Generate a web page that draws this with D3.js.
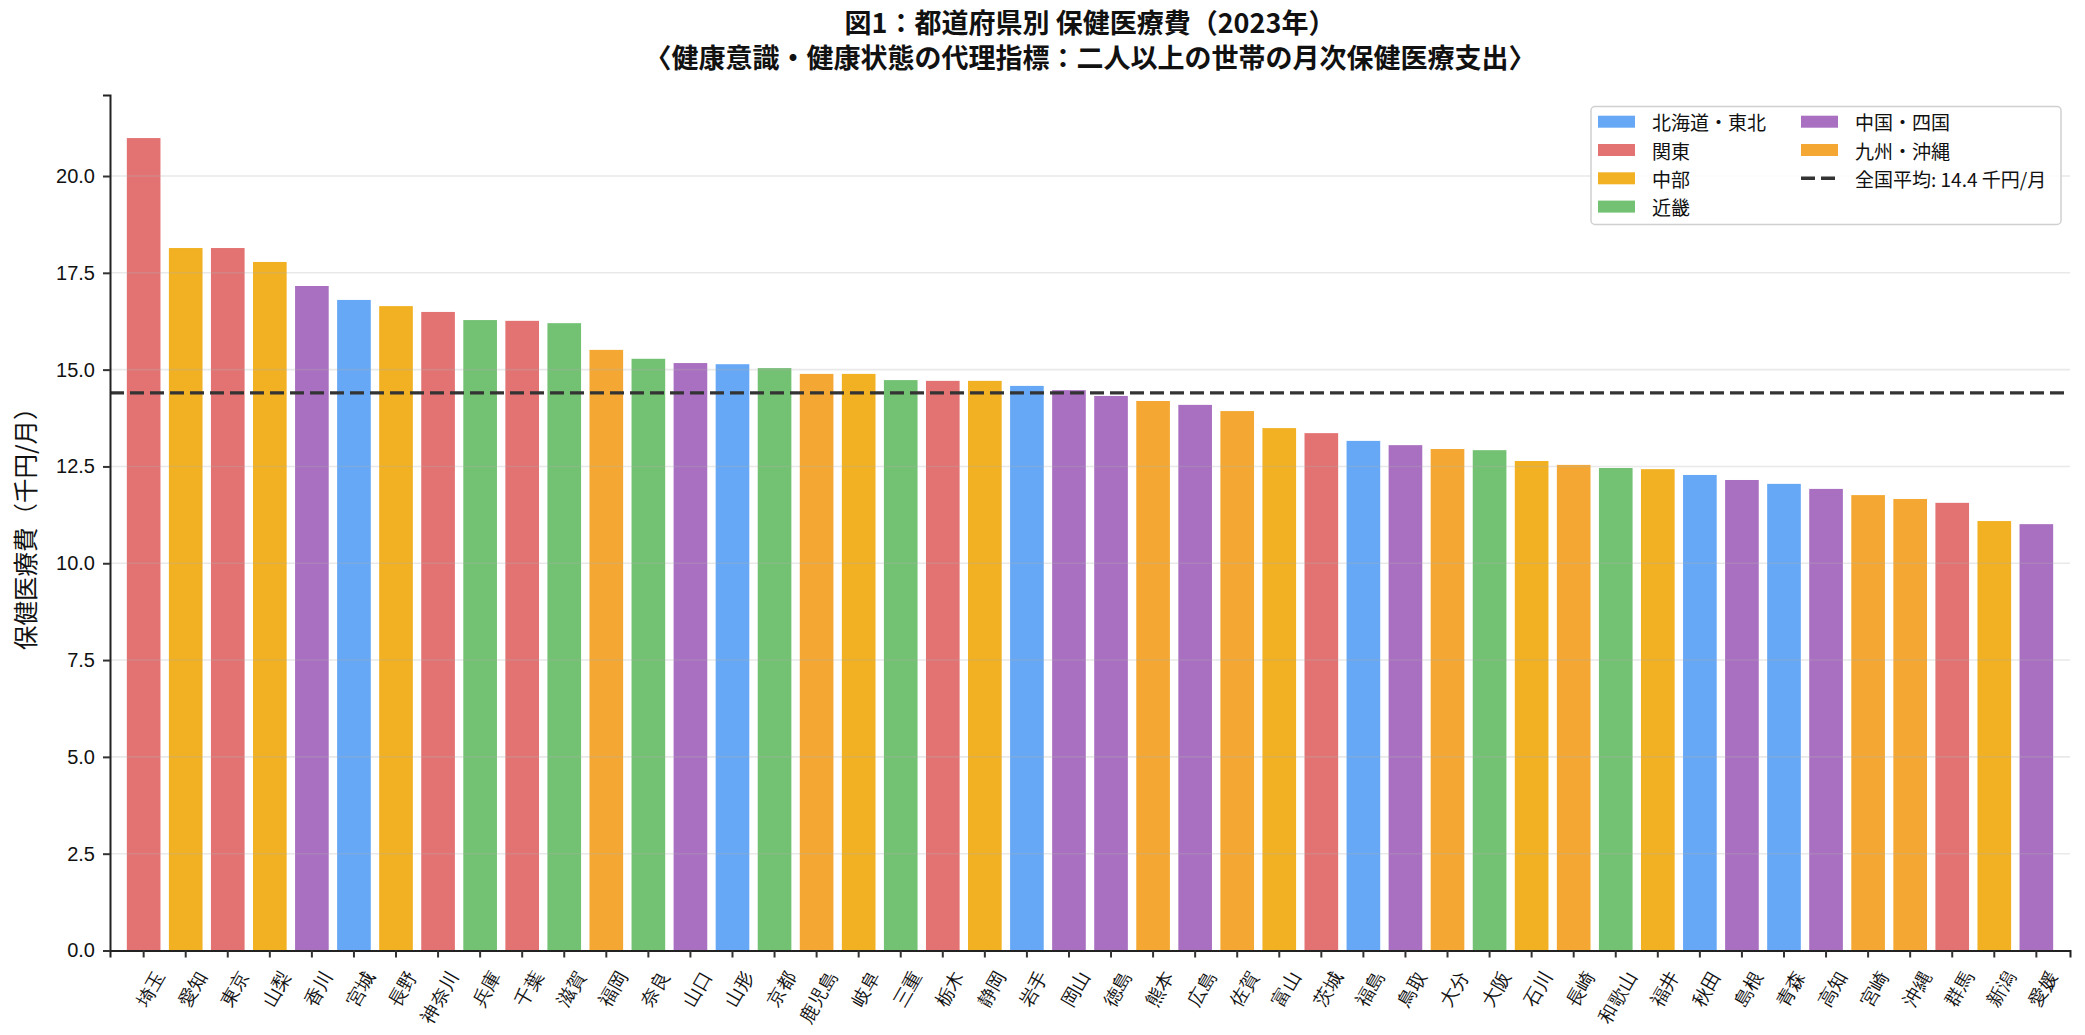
<!DOCTYPE html>
<html>
<head>
<meta charset="utf-8">
<script src="https://cdn.jsdelivr.net/npm/d3@7"></script>
<style>
  html, body { margin: 0; padding: 0; background: #fff; }
  svg { display: block; font-family: "Noto Sans CJK JP", "Noto Sans", sans-serif; }
</style>
</head>
<body>
<div id="chart"></div>
<script>
// 都道府県（支出の多い順）
const prefectures = [
  "埼玉", "愛知", "東京", "山梨", "香川", "宮城", "長野", "神奈川", "兵庫", "千葉",
  "滋賀", "福岡", "奈良", "山口", "山形", "京都", "鹿児島", "岐阜", "三重", "栃木",
  "静岡", "岩手", "岡山", "徳島", "熊本", "広島", "佐賀", "富山", "茨城", "福島",
  "鳥取", "大分", "大阪", "石川", "長崎", "和歌山", "福井", "秋田", "島根", "青森",
  "高知", "宮崎", "沖縄", "群馬", "新潟", "愛媛"
];

// 月次保健医療費（千円/月）
const values = [
  20.98, 18.14, 18.14, 17.78, 17.16, 16.80, 16.64, 16.49, 16.28, 16.26,
  16.20, 15.51, 15.28, 15.17, 15.14, 15.04, 14.89, 14.89, 14.73, 14.71,
  14.71, 14.58, 14.47, 14.32, 14.19, 14.09, 13.93, 13.49, 13.36, 13.16,
  13.05, 12.95, 12.92, 12.64, 12.54, 12.46, 12.43, 12.28, 12.15, 12.05,
  11.92, 11.76, 11.66, 11.56, 11.09, 11.01
];

const regions = [
  "関東", "中部", "関東", "中部", "中国・四国", "北海道・東北", "中部", "関東", "近畿", "関東",
  "近畿", "九州・沖縄", "近畿", "中国・四国", "北海道・東北", "近畿", "九州・沖縄", "中部", "近畿", "関東",
  "中部", "北海道・東北", "中国・四国", "中国・四国", "九州・沖縄", "中国・四国", "九州・沖縄", "中部", "関東", "北海道・東北",
  "中国・四国", "九州・沖縄", "近畿", "中部", "九州・沖縄", "近畿", "中部", "北海道・東北", "中国・四国", "北海道・東北",
  "中国・四国", "九州・沖縄", "九州・沖縄", "関東", "中部", "中国・四国"
];

const regionNames = ["北海道・東北", "関東", "中部", "近畿", "中国・四国", "九州・沖縄"];
const yTicks = [0, 2.5, 5, 7.5, 10, 12.5, 15, 17.5, 20];
const nationalAvg = 14.4;

const data = prefectures.map((p, i) => ({ name: p, value: values[i], region: regions[i] }));

const width = 2085;
const height = 1035;
const margin = { top: 95, right: 15, bottom: 84.5, left: 110 };

const color = d3.scaleOrdinal()
  .domain(regionNames)
  .range(["#66a8f5", "#e37373", "#f1b122", "#73c173", "#a970c1", "#f4a833"]);

const svg = d3.select("#chart")
  .append("svg")
  .attr("width", width)
  .attr("height", height);

const x = d3.scaleBand()
  .domain(prefectures)
  .range([margin.left, width - margin.right])
  .paddingInner(0.2)
  .paddingOuter(0.4);

const y = d3.scaleLinear()
  .domain([0, d3.max(values) * 1.053])
  .range([height - margin.bottom, margin.top]);

// bars
svg.append("g")
  .selectAll("rect")
  .data(data)
  .enter().append("rect")
  .attr("x", d => x(d.name))
  .attr("y", d => y(d.value))
  .attr("width", x.bandwidth())
  .attr("height", d => y(0) - y(d.value))
  .attr("fill", d => color(d.region));

// grid (drawn over the bars, faint)
svg.append("g")
  .selectAll("line")
  .data(yTicks.filter(t => t > 0))
  .enter().append("line")
  .attr("x1", margin.left)
  .attr("x2", width - margin.right)
  .attr("y1", d => y(d))
  .attr("y2", d => y(d))
  .attr("stroke", "#b0b0b0")
  .attr("stroke-opacity", 0.28)
  .attr("stroke-width", 1.6);

// national average line
svg.append("line")
  .attr("x1", margin.left)
  .attr("x2", width - margin.right)
  .attr("y1", y(nationalAvg))
  .attr("y2", y(nationalAvg))
  .attr("stroke", "#333")
  .attr("stroke-width", 3.4)
  .attr("stroke-dasharray", "14,6");

// axes
const xAxis = svg.append("g")
  .attr("transform", `translate(0,${height - margin.bottom})`)
  .call(d3.axisBottom(x).tickSizeOuter(0).tickSize(7).tickPadding(6));

xAxis.selectAll("text")
  .attr("font-size", 18.5)
  .attr("fill", "#111")
  .attr("text-anchor", "end")
  .attr("dy", "0.35em")
  .attr("transform", "translate(5,15) rotate(-60)");

const yAxis = svg.append("g")
  .attr("transform", `translate(${margin.left},0)`)
  .call(d3.axisLeft(y).tickValues(yTicks).tickFormat(d3.format(".1f")).tickSizeOuter(0).tickSize(7).tickPadding(8));

yAxis.selectAll("text")
  .attr("font-size", 20)
  .attr("fill", "#111");

[xAxis, yAxis].forEach(g => {
  g.select(".domain").attr("stroke", "#222").attr("stroke-width", 2);
  g.selectAll(".tick line").attr("stroke", "#333").attr("stroke-width", 2);
});

// y axis label
svg.append("text")
  .attr("transform", `translate(28,${(margin.top + height - margin.bottom) / 2}) rotate(-90)`)
  .attr("text-anchor", "middle")
  .attr("dominant-baseline", "middle")
  .attr("font-size", 24.5)
  .attr("fill", "#111")
  .text("保健医療費（千円/月）");

// title
const cx = (margin.left + width - margin.right) / 2;
svg.append("text")
  .attr("x", cx)
  .attr("y", 33)
  .attr("text-anchor", "middle")
  .attr("font-size", 27)
  .attr("font-weight", "bold")
  .attr("fill", "#111")
  .text("図1：都道府県別 保健医療費（2023年）");

svg.append("text")
  .attr("x", cx)
  .attr("y", 68)
  .attr("text-anchor", "middle")
  .attr("font-size", 27)
  .attr("font-weight", "bold")
  .attr("fill", "#111")
  .text("〈健康意識・健康状態の代理指標：二人以上の世帯の月次保健医療支出〉");

// legend
const legend = svg.append("g");
legend.append("rect")
  .attr("x", 1591)
  .attr("y", 106.5)
  .attr("width", 470)
  .attr("height", 118)
  .attr("rx", 4)
  .attr("fill", "#fff")
  .attr("fill-opacity", 0.85)
  .attr("stroke", "#d0d0d0")
  .attr("stroke-width", 1.5);

const legendItems = regionNames.map(r => ({ label: r, type: "bar" }))
  .concat([{ label: `全国平均: ${nationalAvg} 千円/月`, type: "line" }]);

const rowH = 28.3;
legendItems.forEach((d, i) => {
  const col = i < 4 ? 0 : 1;
  const row = i < 4 ? i : i - 4;
  const gx = col === 0 ? 1598 : 1801;
  const gy = 121.7 + row * rowH;
  const item = legend.append("g").attr("transform", `translate(${gx},${gy})`);
  if (d.type === "bar") {
    item.append("rect")
      .attr("x", 0).attr("y", -6)
      .attr("width", 37).attr("height", 12)
      .attr("fill", color(d.label));
  } else {
    item.append("line")
      .attr("x1", 0).attr("x2", 35)
      .attr("y1", 0).attr("y2", 0)
      .attr("stroke", "#333")
      .attr("stroke-width", 3.4)
      .attr("stroke-dasharray", "14,6");
  }
  item.append("text")
    .attr("x", 54)
    .attr("y", 0)
    .attr("dominant-baseline", "central")
    .attr("font-size", 19)
    .attr("fill", "#111")
    .text(d.label);
});
</script>
</body>
</html>
